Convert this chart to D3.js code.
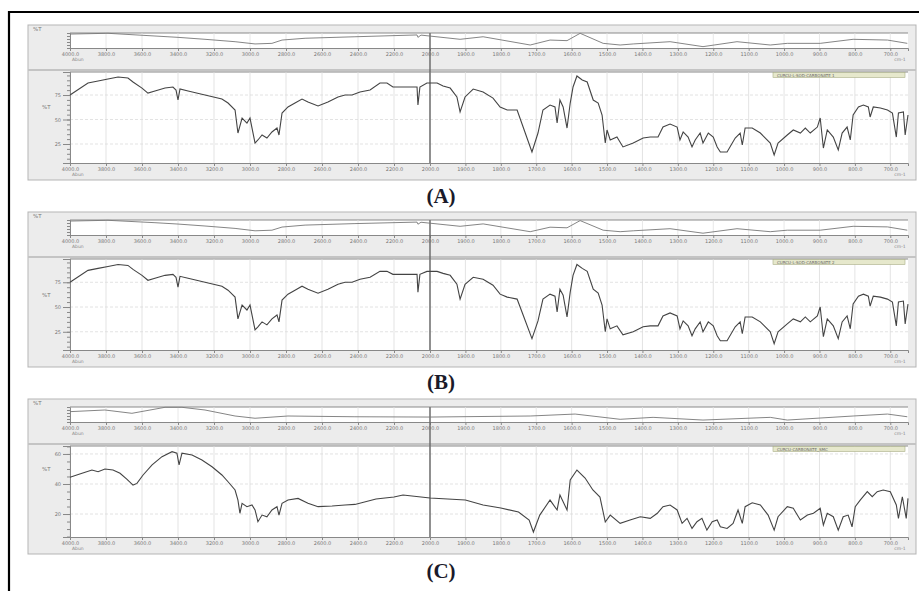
<!DOCTYPE html>
<html>
<head>
<meta charset="utf-8">
<script src="https://cdn.jsdelivr.net/npm/d3@7"></script>
<style>
  body { margin: 0; background: #fff; }
  .tick text { font-family: "DejaVu Sans", sans-serif; }
</style>
</head>
<body>
<svg id="chart" width="919" height="591"></svg>
<script>
// x axis tick labels (scale changes at 2000 cm-1)
const xTicks = [4000, 3800, 3600, 3400, 3200, 3000, 2800, 2600, 2400, 2200, 2000,
  1900, 1800, 1700, 1600, 1500, 1400, 1300, 1200, 1100, 1000, 900, 800, 700]
const yTicksAB = [25, 50, 75]
const yTicksC = [20, 40, 60]

// main spectra, [wavenumber, %T]
const spectrumA = [
  [4000,75],[3900,87.2],[3844,89.3],[3789,91.3],[3733,93.4],[3678,92.3],[3650,88.3],[3600,82.1],
  [3567,77],[3528,79.1],[3472,82.1],[3428,83.2],[3411,80.1],[3400,69.9],[3389,81.1],[3344,79.1],
  [3250,75],[3156,70.9],[3122,66.8],[3083,59.7],[3067,36.2],[3044,51.5],[3017,46.4],[3000,51.5],
  [2972,26],[2956,29.1],[2933,34.2],[2906,31.1],[2878,37.3],[2850,41.3],[2839,34.2],[2822,56.6],
  [2789,62.8],[2750,66.8],[2711,70.9],[2678,67.9],[2622,63.8],[2567,67.9],[2511,73],[2472,75],
  [2433,75],[2389,78.1],[2333,80.1],[2278,87.2],[2239,87.2],[2206,83.2],[2150,83.2],[2072,83.2],
  [2067,64.8],[2056,83.2],[2017,87.2],[1980,87.2],[1963,84.2],[1943,82.1],[1924,73],[1915,57.7],
  [1901,73],[1878,81.1],[1850,78.1],[1822,71.9],[1802,62.8],[1782,59.7],[1754,59.7],[1737,42.3],
  [1712,16.9],[1695,36.2],[1681,59.7],[1661,64.8],[1647,62.8],[1641,46.4],[1633,69.9],[1624,62.8],
  [1613,41.3],[1604,66.8],[1596,83.2],[1585,94.4],[1570,90.3],[1556,88.3],[1539,69.9],[1525,66.8],
  [1514,54.6],[1505,26],[1500,39.3],[1491,29.1],[1472,32.1],[1455,22],[1426,26],[1398,31.1],
  [1378,32.1],[1356,32.1],[1342,42.3],[1322,45.3],[1302,42.3],[1294,29.1],[1285,37.3],[1271,32.1],
  [1260,22],[1251,29.1],[1237,36.2],[1229,26],[1214,36.2],[1200,32.1],[1189,22],[1180,16.9],
  [1161,16.9],[1138,31.1],[1124,36.2],[1118,24],[1110,41.3],[1090,41.3],[1067,36.2],[1039,26],
  [1028,13.8],[1017,26],[991,34.2],[974,39.3],[954,36.2],[940,41.3],[926,36.2],[906,42.3],
  [898,51.5],[889,20.9],[878,39.3],[861,32.1],[847,19],[836,36.2],[822,42.3],[813,29.1],
  [805,54.6],[790,62.8],[776,64.8],[762,62.8],[757,52.6],[748,62.8],[728,61.8],[708,59.7],
  [694,56.6],[683,32.1],[677,56.6],[663,57.7],[658,34.2],[650,54.6]
]
const spectrumB = [
  [4000,75],[3900,87],[3844,89],[3789,91],[3733,93],[3678,92],[3650,88],[3600,82],
  [3567,77],[3528,79],[3472,82],[3428,83],[3411,80],[3400,70],[3389,81],[3344,79],
  [3250,75],[3156,71],[3122,67],[3083,60],[3067,38],[3044,52],[3017,47],[3000,52],
  [2972,27],[2956,30],[2933,35],[2906,32],[2878,38],[2850,42],[2839,35],[2822,57],
  [2789,63],[2750,67],[2711,71],[2678,68],[2622,64],[2567,68],[2511,73],[2472,75],
  [2433,75],[2389,78],[2333,80],[2278,86],[2239,86],[2206,83],[2150,83],[2072,83],
  [2067,65],[2056,83],[2017,86],[1980,86],[1963,84],[1943,82],[1924,73],[1915,58],
  [1901,73],[1878,80],[1850,78],[1822,72],[1802,63],[1782,60],[1754,58],[1737,42],
  [1712,18],[1695,36],[1681,58],[1661,63],[1647,61],[1641,45],[1633,68],[1624,62],
  [1613,40],[1604,65],[1596,82],[1585,93],[1570,89],[1556,86],[1539,68],[1525,64],
  [1514,52],[1505,25],[1500,38],[1491,28],[1472,31],[1455,22],[1426,25],[1398,30],
  [1378,31],[1356,31],[1342,41],[1322,44],[1302,41],[1294,28],[1285,36],[1271,31],
  [1260,21],[1251,28],[1237,35],[1229,25],[1214,35],[1200,31],[1189,21],[1180,16],
  [1161,16],[1138,30],[1124,35],[1118,23],[1110,40],[1090,40],[1067,35],[1039,25],
  [1028,13],[1017,25],[991,33],[974,38],[954,35],[940,40],[926,35],[906,41],
  [898,50],[889,20],[878,38],[861,31],[847,18],[836,35],[822,41],[813,28],
  [805,53],[790,61],[776,63],[762,61],[757,51],[748,61],[728,60],[708,58],
  [694,55],[683,31],[677,55],[663,56],[658,33],[650,53]
]
const spectrumC = [
  [4000,44.5],[3933,47.1],[3878,49.3],[3844,48.2],[3806,50],[3761,49.3],[3722,47.1],[3683,43.1],
  [3650,39.3],[3628,40.4],[3594,46],[3544,52.7],[3489,58.2],[3433,61.5],[3406,60.5],[3394,52.7],
  [3378,60.5],[3322,59.3],[3267,56],[3211,51.5],[3156,46],[3122,41.5],[3083,36],[3067,29.3],
  [3056,20.5],[3044,27.1],[3017,24.9],[2989,26],[2972,22.7],[2956,14.9],[2933,19.3],[2906,18.2],
  [2878,22.7],[2850,24.9],[2839,19.3],[2822,27.1],[2789,29.3],[2733,30.4],[2678,27.1],[2622,24.9],
  [2544,25.3],[2472,26],[2417,26.4],[2300,30],[2200,31.3],[2150,32.7],[2050,31.3],[2000,30.7],
  [1900,29.3],[1850,26],[1800,24],[1750,21.3],[1720,16],[1708,8],[1690,19.3],[1661,29.3],
  [1641,22.7],[1633,32.7],[1613,22.7],[1604,42.7],[1585,49.3],[1562,44],[1540,36],[1520,31.3],
  [1505,14.7],[1491,19.3],[1463,13.8],[1435,16],[1406,18.2],[1378,17.1],[1358,20.5],[1342,24.9],
  [1322,26],[1302,22.7],[1288,13.8],[1274,17.1],[1260,10.4],[1246,14.9],[1232,17.1],[1218,9.3],
  [1203,14.9],[1189,16],[1180,11.5],[1161,10.4],[1144,13.8],[1130,22.7],[1118,13.8],[1110,24.9],
  [1090,27.5],[1067,26],[1045,19.3],[1028,9.3],[1017,18.2],[991,24.9],[974,23.8],[954,16],
  [934,19.3],[917,20.5],[898,23.8],[889,12.7],[878,20.5],[861,18.2],[847,9.3],[833,18.2],
  [819,19.3],[808,11.5],[799,24.9],[785,29.3],[765,34.9],[751,31.5],[737,34.9],[720,36],
  [700,34.9],[683,26],[677,17.1],[666,31.5],[655,17.1],[650,30.4]
]

// overview strips, relative 0-100
const overviewA = [
  [4000,93],[3789,98],[3528,80],[3400,71],[3250,58],[3083,42],[2972,27],[2878,31],[2822,53],
  [2694,65],[2417,75],[2072,87],[2067,71],[2050,86],[1915,58],[1850,75],[1717,20],[1661,53],
  [1613,49],[1576,98],[1511,31],[1463,20],[1426,27],[1322,42],[1229,9],[1133,42],[1039,20],
  [991,31],[898,31],[805,58],[708,53],[652,31]
]
const overviewB = [
  [4000,93],[3789,98],[3528,82],[3400,73],[3250,60],[3083,44],[2972,28],[2878,32],[2822,53],
  [2694,66],[2417,76],[2072,86],[2067,72],[2050,85],[1915,58],[1850,74],[1717,22],[1661,52],
  [1613,48],[1576,96],[1511,32],[1463,22],[1426,28],[1322,42],[1229,12],[1133,42],[1039,22],
  [991,32],[898,32],[805,58],[708,54],[652,32]
]
const overviewC = [
  [4000,69],[3806,80],[3656,58],[3472,98],[3378,98],[3250,80],[3083,40],[2972,25],[2789,40],
  [2417,35],[2000,33],[1717,40],[1590,53],[1463,18],[1370,31],[1229,13],[1039,31],[991,13],
  [805,40],[708,53],[652,35]
]

const svg = d3.select("#chart")
const font = '"DejaVu Sans", sans-serif'

// outer frame
svg.append("path")
  .attr("d", "M9,591 L9,12 L919,12")
  .attr("fill", "none").attr("stroke", "#000").attr("stroke-width", 2.2)

const x = d3.scaleLinear().domain([4000, 2000, 650]).range([70, 430, 908])

const panels = [
  { top: 25, label: "(A)", main: spectrumA, strip: overviewA, yTicks: yTicksAB, yDomain: [5.6, 98.5],
    legend: "CURCU-L-SOD-CARBONATE 1", labelY: 203 },
  { top: 212, label: "(B)", main: spectrumB, strip: overviewB, yTicks: yTicksAB, yDomain: [6.6, 98.5],
    legend: "CURCU-L-SOD-CARBONATE 2", labelY: 389 },
  { top: 399, label: "(C)", main: spectrumC, strip: overviewC, yTicks: yTicksC, yDomain: [4.7, 65.3],
    legend: "CURCU-CARBONATE_SMC", labelY: 578 }
]

function styleAxis(g) {
  g.selectAll("path").attr("stroke", "#888")
  g.selectAll("line").attr("stroke", "#888")
  g.selectAll("text").attr("fill", "#777").attr("font-size", 5).attr("font-family", font)
}

panels.forEach(p => {
  const g = svg.append("g")
  const t = p.top
  const stripTop = t + 8, stripBot = t + 23
  const mainTop = t + 47, mainBot = t + 138

  g.append("rect").attr("x", 28).attr("y", t).attr("width", 888).attr("height", 155)
    .attr("fill", "#ececec").attr("stroke", "#b5b5b5")
  g.append("line").attr("x1", 28).attr("x2", 916).attr("y1", t + 45).attr("y2", t + 45)
    .attr("stroke", "#c4c4c4").attr("stroke-width", 2)

  // strip plot
  g.append("rect").attr("x", 70).attr("y", stripTop).attr("width", 838).attr("height", stripBot - stripTop)
    .attr("fill", "#fff")
  g.append("line").attr("x1", 70).attr("x2", 908).attr("y1", stripTop).attr("y2", stripTop)
    .attr("stroke", "#8a8a8a").attr("stroke-width", 1.2)
  // main plot
  g.append("rect").attr("x", 70).attr("y", mainTop).attr("width", 838).attr("height", mainBot - mainTop)
    .attr("fill", "#fff")
  g.append("line").attr("x1", 70).attr("x2", 908).attr("y1", mainTop).attr("y2", mainTop)
    .attr("stroke", "#8a8a8a").attr("stroke-width", 1.2)

  const ys = d3.scaleLinear().domain([0, 100]).range([stripBot, stripTop])
  const y = d3.scaleLinear().domain(p.yDomain).range([mainBot, mainTop])

  // grid
  g.selectAll(".vg").data(xTicks).enter().append("line")
    .attr("x1", d => x(d)).attr("x2", d => x(d)).attr("y1", mainTop).attr("y2", mainBot)
    .attr("stroke", "#dcdcdc").attr("stroke-width", 0.8)
  g.selectAll(".vgs").data(xTicks).enter().append("line")
    .attr("x1", d => x(d)).attr("x2", d => x(d)).attr("y1", stripTop).attr("y2", stripBot)
    .attr("stroke", "#e2e2e2").attr("stroke-width", 0.8)
  g.selectAll(".hg").data(p.yTicks).enter().append("line")
    .attr("x1", 70).attr("x2", 908).attr("y1", d => y(d)).attr("y2", d => y(d))
    .attr("stroke", "#dcdcdc").attr("stroke-width", 0.8).attr("stroke-dasharray", "3,2")

  // axes
  const xa = d3.axisBottom(x).tickValues(xTicks).tickSize(3).tickPadding(1).tickFormat(d3.format(".1f"))
  g.append("g").attr("transform", `translate(0,${stripBot})`).call(xa).call(styleAxis)
  g.append("g").attr("transform", `translate(0,${mainBot})`).call(xa).call(styleAxis)

  const minor = d3.range(Math.ceil(p.yDomain[0] / 5) * 5, p.yDomain[1], 5)
  g.append("g").attr("transform", "translate(70,0)")
    .call(d3.axisLeft(y).tickValues(minor).tickSize(3).tickFormat("")).call(styleAxis)
  g.append("g").attr("transform", "translate(70,0)")
    .call(d3.axisLeft(y).tickValues(p.yTicks).tickSize(7).tickPadding(2)).call(styleAxis)
  g.append("g").attr("transform", "translate(70,0)")
    .call(d3.axisLeft(ys).tickValues([20, 40, 60, 80]).tickSize(3).tickFormat("")).call(styleAxis)

  g.append("text").attr("x", 33).attr("y", t + 6).text("%T")
    .attr("font-size", 5.5).attr("fill", "#777").attr("font-family", font)
  g.append("text").attr("x", 42).attr("y", (y(p.yTicks[1]) + y(p.yTicks[2])) / 2 + 2).text("%T")
    .attr("font-size", 5.5).attr("fill", "#777").attr("font-family", font)
  g.append("text").attr("x", 72).attr("y", stripBot + 13).text("Abun")
    .attr("font-size", 4.5).attr("fill", "#888").attr("font-family", font)
  g.append("text").attr("x", 72).attr("y", mainBot + 13).text("Abun")
    .attr("font-size", 4.5).attr("fill", "#888").attr("font-family", font)
  g.append("text").attr("x", 900).attr("y", stripBot + 13).text("cm-1").attr("text-anchor", "middle")
    .attr("font-size", 4.5).attr("fill", "#888").attr("font-family", font)
  g.append("text").attr("x", 900).attr("y", mainBot + 13).text("cm-1").attr("text-anchor", "middle")
    .attr("font-size", 4.5).attr("fill", "#888").attr("font-family", font)

  // scale-change marker at 2000
  g.append("line").attr("x1", x(2000)).attr("x2", x(2000)).attr("y1", stripTop).attr("y2", mainBot)
    .attr("stroke", "#666").attr("stroke-width", 1.4)

  // curves
  const line = d3.line().x(d => x(d[0]))
  g.append("path").datum(p.strip).attr("d", line.y(d => ys(d[1])))
    .attr("fill", "none").attr("stroke", "#777").attr("stroke-width", 0.9)
  g.append("path").datum(p.main).attr("d", d3.line().x(d => x(d[0])).y(d => y(d[1])))
    .attr("fill", "none").attr("stroke", "#444").attr("stroke-width", 1.1)

  // legend tag
  g.append("rect").attr("x", 773).attr("y", mainTop + 0.5).attr("width", 132).attr("height", 5)
    .attr("fill", "#e6e8cc").attr("stroke", "#a9ad86").attr("stroke-width", 0.6)
  g.append("text").attr("x", 777).attr("y", mainTop + 4.6).text(p.legend)
    .attr("font-size", 4).attr("fill", "#666").attr("font-family", font)

  // panel label
  svg.append("text").attr("x", 441).attr("y", p.labelY).attr("text-anchor", "middle")
    .text(p.label).attr("font-family", '"Liberation Serif", serif').attr("font-weight", "bold")
    .attr("font-size", 21).attr("fill", "#1a1a2a")
})
</script>
</body>
</html>
